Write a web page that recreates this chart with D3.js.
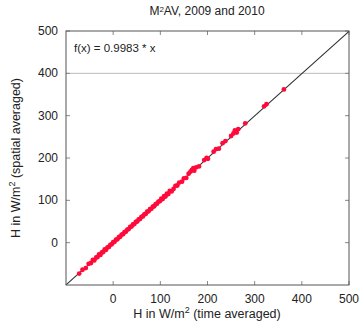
<!DOCTYPE html>
<html>
<head>
<meta charset="utf-8">
<script src="https://cdn.jsdelivr.net/npm/d3@7"></script>
<style>
  body { margin: 0; background: #fff; }
  text { font-family: "Liberation Sans", Arial, sans-serif; fill: #222; }
</style>
</head>
<body>
<svg id="chart" width="363" height="325"></svg>
<script>
// H in W/m^2: time averaged (x) vs spatial averaged (y)
const timeAvg = [-72, -65, -58, -52, -47, -43, -40, -36, -33, -30, -27, -24, -21, -18, -15, -12, -9, -6, -3, 0,
  3, 6, 9, 12, 15, 18, 21, 24, 27, 30, 33, 36, 39, 42, 45, 48, 51, 54, 57, 60,
  63, 66, 69, 72, 75, 78, 81, 84, 87, 90, 93, 96, 99, 102, 105, 108, 111, 114, 117, 120,
  124, 128, 132, 136, 140, 146, 150, 155, 160, 164, 167, 170, 172, 176, 182, 193, 198, 201, 213, 218,
  224, 232, 238, 250, 255, 258, 262, 265, 280, 320, 325, 362]
const spatialAvg = [-73, -64, -60, -50, -48, -41, -42, -35, -34, -28, -29, -23, -22, -16, -17, -11, -10, -5, -4, 1,
  2, 7, 8, 13, 14, 19, 20, 25, 26, 31, 32, 37, 38, 43, 44, 49, 50, 55, 56, 61,
  62, 67, 68, 73, 74, 79, 80, 85, 86, 91, 92, 97, 98, 104, 103, 110, 109, 116, 115, 122,
  121, 127, 134, 135, 142, 144, 152, 153, 163, 168, 172, 176, 170, 178, 180, 195, 200, 198, 215, 221,
  222, 235, 240, 252, 258, 265, 260, 268, 282, 322, 327, 362]
const xTicks = [0, 100, 200, 300, 400, 500]
const yTicks = [0, 100, 200, 300, 400, 500]
const slope = 0.9983
const domain = [-100, 500]

const svg = d3.select('#chart')
const plotL = 66, plotR = 349, plotT = 31, plotB = 285

const x = d3.scaleLinear().domain(domain).range([plotL, plotR])
const y = d3.scaleLinear().domain(domain).range([plotB, plotT])

// key box bottom line
svg.append('line')
  .attr('x1', plotL).attr('x2', plotR)
  .attr('y1', y(400)).attr('y2', y(400))
  .attr('stroke', '#bbb').attr('stroke-width', 1)

// inward ticks on all sides
const tickLen = 4
const ticks = svg.append('g').attr('stroke', '#888').attr('stroke-width', 1)
xTicks.forEach(t => {
  ticks.append('line').attr('x1', x(t)).attr('x2', x(t)).attr('y1', plotB).attr('y2', plotB - tickLen)
  ticks.append('line').attr('x1', x(t)).attr('x2', x(t)).attr('y1', plotT).attr('y2', plotT + tickLen)
})
yTicks.forEach(t => {
  ticks.append('line').attr('x1', plotL).attr('x2', plotL + tickLen).attr('y1', y(t)).attr('y2', y(t))
  ticks.append('line').attr('x1', plotR).attr('x2', plotR - tickLen).attr('y1', y(t)).attr('y2', y(t))
})

// fit line
const line = d3.line().x(d => x(d)).y(d => y(slope * d))
svg.append('path')
  .datum(domain)
  .attr('d', line)
  .attr('fill', 'none')
  .attr('stroke', '#2a332a')
  .attr('stroke-width', 1.1)

// data points
svg.append('g').selectAll('circle')
  .data(timeAvg.map((v, i) => [v, spatialAvg[i]]))
  .enter().append('circle')
  .attr('cx', d => x(d[0]))
  .attr('cy', d => y(d[1]))
  .attr('r', 2.4)
  .attr('fill', '#ff0a3a')

// frame
svg.append('rect')
  .attr('x', plotL).attr('y', plotT)
  .attr('width', plotR - plotL).attr('height', plotB - plotT)
  .attr('fill', 'none').attr('stroke', '#555').attr('stroke-width', 1)

// tick labels
svg.append('g').selectAll('text')
  .data(xTicks).enter().append('text')
  .attr('x', d => x(d)).attr('y', plotB + 18)
  .attr('text-anchor', 'middle').attr('font-size', 12)
  .text(d => d)
svg.append('g').selectAll('text')
  .data(yTicks).enter().append('text')
  .attr('x', plotL - 8).attr('y', d => y(d) + 4)
  .attr('text-anchor', 'end').attr('font-size', 12)
  .text(d => d)

// title
const title = svg.append('text')
  .attr('x', 207).attr('y', 15)
  .attr('text-anchor', 'middle').attr('font-size', 12)
title.append('tspan').text('M')
title.append('tspan').attr('font-size', 8).attr('dy', -3).text('2')
title.append('tspan').attr('dy', 3).text('AV, 2009 and 2010')

// key
svg.append('text')
  .attr('x', 74).attr('y', 52).attr('font-size', 11.5)
  .text('f(x) = 0.9983 * x')

// x label
const xl = svg.append('text')
  .attr('x', 207).attr('y', 318)
  .attr('text-anchor', 'middle').attr('font-size', 12.5)
xl.append('tspan').text('H in W/m')
xl.append('tspan').attr('font-size', 9).attr('dy', -5).text('2')
xl.append('tspan').attr('dy', 5).text(' (time averaged)')

// y label
const yl = svg.append('text')
  .attr('transform', `translate(20,${(plotT + plotB) / 2}) rotate(-90)`)
  .attr('text-anchor', 'middle').attr('font-size', 12.5)
yl.append('tspan').text('H in W/m')
yl.append('tspan').attr('font-size', 9).attr('dy', -5).text('2')
yl.append('tspan').attr('dy', 5).text(' (spatial averaged)')
</script>
</body>
</html>
